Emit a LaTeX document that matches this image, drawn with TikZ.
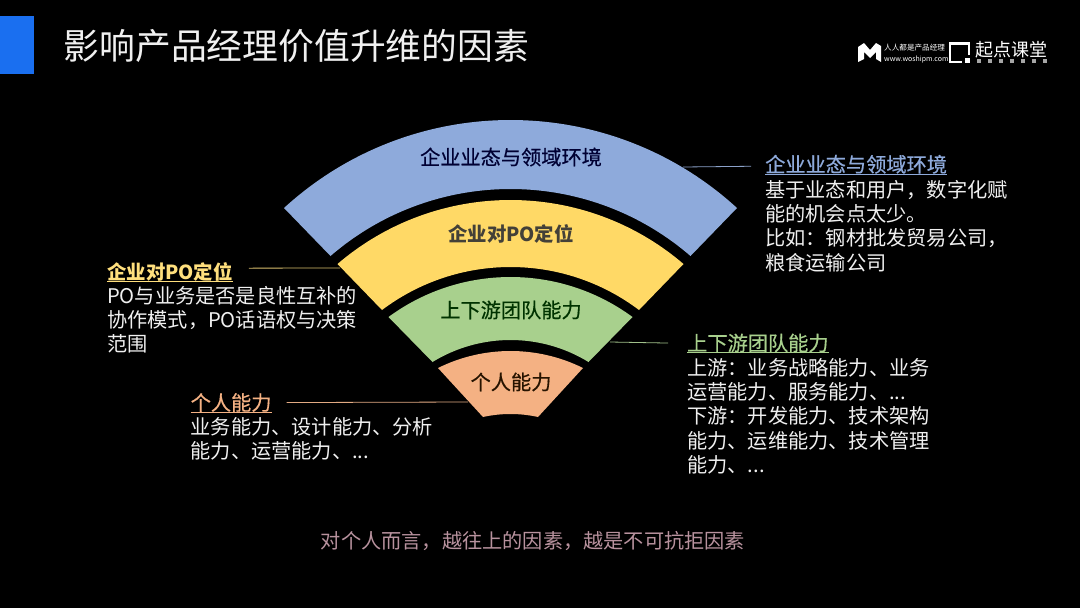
\documentclass[tikz,border=0pt]{standalone}
\usepackage{fontspec}
\setmainfont{Noto Sans CJK SC}
\newfontfamily\medcjk[FakeBold=0.5]{Noto Sans CJK SC}
\newcommand{\qcomma}{\char"FF0C\relax}
\newcommand{\qcolon}{\char"FF1A\relax}
\usetikzlibrary{calc}
\definecolor{cBlue}{HTML}{8EAADB}
\definecolor{cYellow}{HTML}{FFD966}
\definecolor{cGreen}{HTML}{A8D08D}
\definecolor{cOrange}{HTML}{F4B183}
\definecolor{cAccent}{HTML}{1A6FF0}
\definecolor{cNote}{HTML}{B8929E}
\definecolor{cBody}{HTML}{F0F0F0}
% computes the cubic handles of a circular arc of half-chord w and sagitta s
\newcommand{\arcvals}[3]{%
  \pgfmathsetmacro{\rr}{((#2/100)^2+(#3/100)^2)/(2*#3/100)*100}%
  \pgfmathsetmacro{\tht}{atan2(#2,\rr-#3)}%
  \pgfmathsetmacro{\kk}{4/3*tan(\tht/2)*\rr}%
  \pgfmathsetmacro{\dxx}{\kk*cos(\tht)}%
  \pgfmathsetmacro{\dyy}{\kk*sin(\tht)}%
  \expandafter\let\csname dx#1\endcsname\dxx
  \expandafter\let\csname dy#1\endcsname\dyy}
% colour, outer w, y, s, inner w, y, s
\newcommand{\fanband}[7]{%
  \arcvals{A}{#2}{#4}\arcvals{B}{#5}{#7}%
  \fill[#1] (510.5-#2,#3)
    .. controls (510.5-#2+\dxA,#3-\dyA) and (510.5+#2-\dxA,#3-\dyA) .. (510.5+#2,#3)
    -- (510.5+#5,#6)
    .. controls (510.5+#5-\dxB,#6-\dyB) and (510.5-#5+\dxB,#6-\dyB) .. (510.5-#5,#6)
    -- cycle;}
\tikzset{
  body/.style={text=cBody,inner sep=0pt,anchor=north west,align=left,
    font=\fontsize{20.2}{24.3}\selectfont},
  head/.style={inner sep=0pt,anchor=base west,font=\medcjk\fontsize{20.2}{24.3}\selectfont},
  fanlabel/.style={inner sep=0pt,font=\medcjk\fontsize{20.2}{24.3}\selectfont},
  leader/.style={line width=0.8pt},
  uline/.style={line width=1pt},
  logotext/.style={inner sep=0pt,text=white,anchor=base west}
}
\begin{document}
\begin{tikzpicture}[x=1pt,y=-1pt]
\useasboundingbox (0,0) rectangle (1080,608);
\fill[black] (0,0) rectangle (1080,608);
\fill[cAccent] (0,16) rectangle (34,74);
\node[inner sep=0pt,anchor=base west,text=cBody,font=\fontsize{35.8}{40}\selectfont] (title) at (63.5,59.5) {影响产品经理价值升维的因素};

% fan
\fanband{cBlue}{226.5}{208}{88}{180}{256}{67}
\fanband{cYellow}{173}{264}{64}{128.5}{310}{43}
\fanband{cGreen}{122}{317}{40}{78}{362}{22}
\fanband{cOrange}{72.5}{368}{17}{27.5}{417}{3}
\node[fanlabel,text=black!80!blue] (fanA) at (511,157) {企业业态与领域环境};
\node[fanlabel,text=black!85!yellow,font=\bfseries\fontsize{19.4}{24}\selectfont] (fanB) at (511,234) {企业对PO定位};
\node[fanlabel,text=black!80!green] (fanC) at (511,310) {上下游团队能力};
\node[fanlabel,text=black!85!orange] (fanD) at (511,382) {个人能力};

% blue note
\node[head,text=cBlue] (hA) at (765,172) {企业业态与领域环境};
\draw[uline,cBlue] (hA.base west)++(0,2.2) -- ($(hA.base east)+(0,2.2)$);
\node[body] (bA) at (765,180) {基于业态和用户\qcomma 数字化赋\\能的机会点太少。\\比如\qcolon 钢材批发贸易公司\qcomma\\粮食运输公司};
\coordinate (lA) at (683,167);
\draw[leader,cBlue!80!gray] (lA) -- ($(hA.west)+(-14,2)$);

% yellow note
\node[head,text=cYellow!85!white,font=\bfseries\fontsize{19.4}{24}\selectfont] (hB) at (107,279.7) {企业对PO定位};
\draw[uline,cYellow!85!white] (hB.base west)++(0,1.6) -- ($(hB.base east)+(0,1.6)$);
\node[body] (bB) at (107,286) {PO与业务是否是良性互补的\\协作模式\qcomma PO话语权与决策\\范围};
\coordinate (lB) at (340,268);
\draw[leader,cYellow!70!gray] ($(hB.east)+(16,-4)$) -- (lB);

% green note
\node[head,text=cGreen] (hC) at (687,350.7) {上下游团队能力};
\draw[uline,cGreen] (hC.base west)++(0,1.6) -- ($(hC.base east)+(0,1.6)$);
\node[body] (bC) at (687,358) {上游\qcolon 业务战略能力、业务\\运营能力、服务能力、...\\下游\qcolon 开发能力、技术架构\\能力、运维能力、技术管理\\能力、...};
\coordinate (lC) at (610,342);
\draw[leader,cGreen!80!gray] (lC) -- ($(hC.west)+(-19,0)$);

% orange note
\node[head,text=cOrange] (hD) at (190.5,410.2) {个人能力};
\draw[uline,cOrange] (hD.base west)++(0,1.8) -- ($(hD.base east)+(0,1.8)$);
\node[body] (bD) at (190.5,417) {业务能力、设计能力、分析\\能力、运营能力、...};
\coordinate (lD) at (468,402);
\draw[leader,cOrange!85!gray] ($(hD.east)+(15,0)$) -- (lD);

% bottom note
\node[inner sep=0pt,anchor=base,text=cNote,font=\fontsize{20.2}{24.3}\selectfont] (note) at (533,548) {对个人而言\qcomma 越往上的因素\qcomma 越是不可抗拒因素};

% logos
\fill[white] (858,47) -- (864,43) -- (870,50) -- (876,43) -- (881,46) -- (881,62) -- (876,59) -- (876,52) -- (870,58) -- (864,52) -- (864,59) -- (858,62) -- cycle;
\node[logotext,font=\fontsize{7.6}{8}\selectfont] (lg1) at (884,50) {人人都是产品经理};
\node[logotext,font=\fontsize{7}{8}\selectfont] (lg2) at (884,61) {www.woshipm.com};
\draw[white,line width=2.4pt] (969,55) -- (969,43.5) -- (950,43.5) -- (950,62) -- (962,62);
\fill[white] (965,58) rectangle (970,63);
\node[logotext,font=\fontsize{18}{18}\selectfont] (lg3) at (975,56) {起点课堂};
\foreach \i in {0,...,6}
  \fill[white!65!black] (976.5+11*\i,59) rectangle +(4.5,3.5);
\end{tikzpicture}
\end{document}
